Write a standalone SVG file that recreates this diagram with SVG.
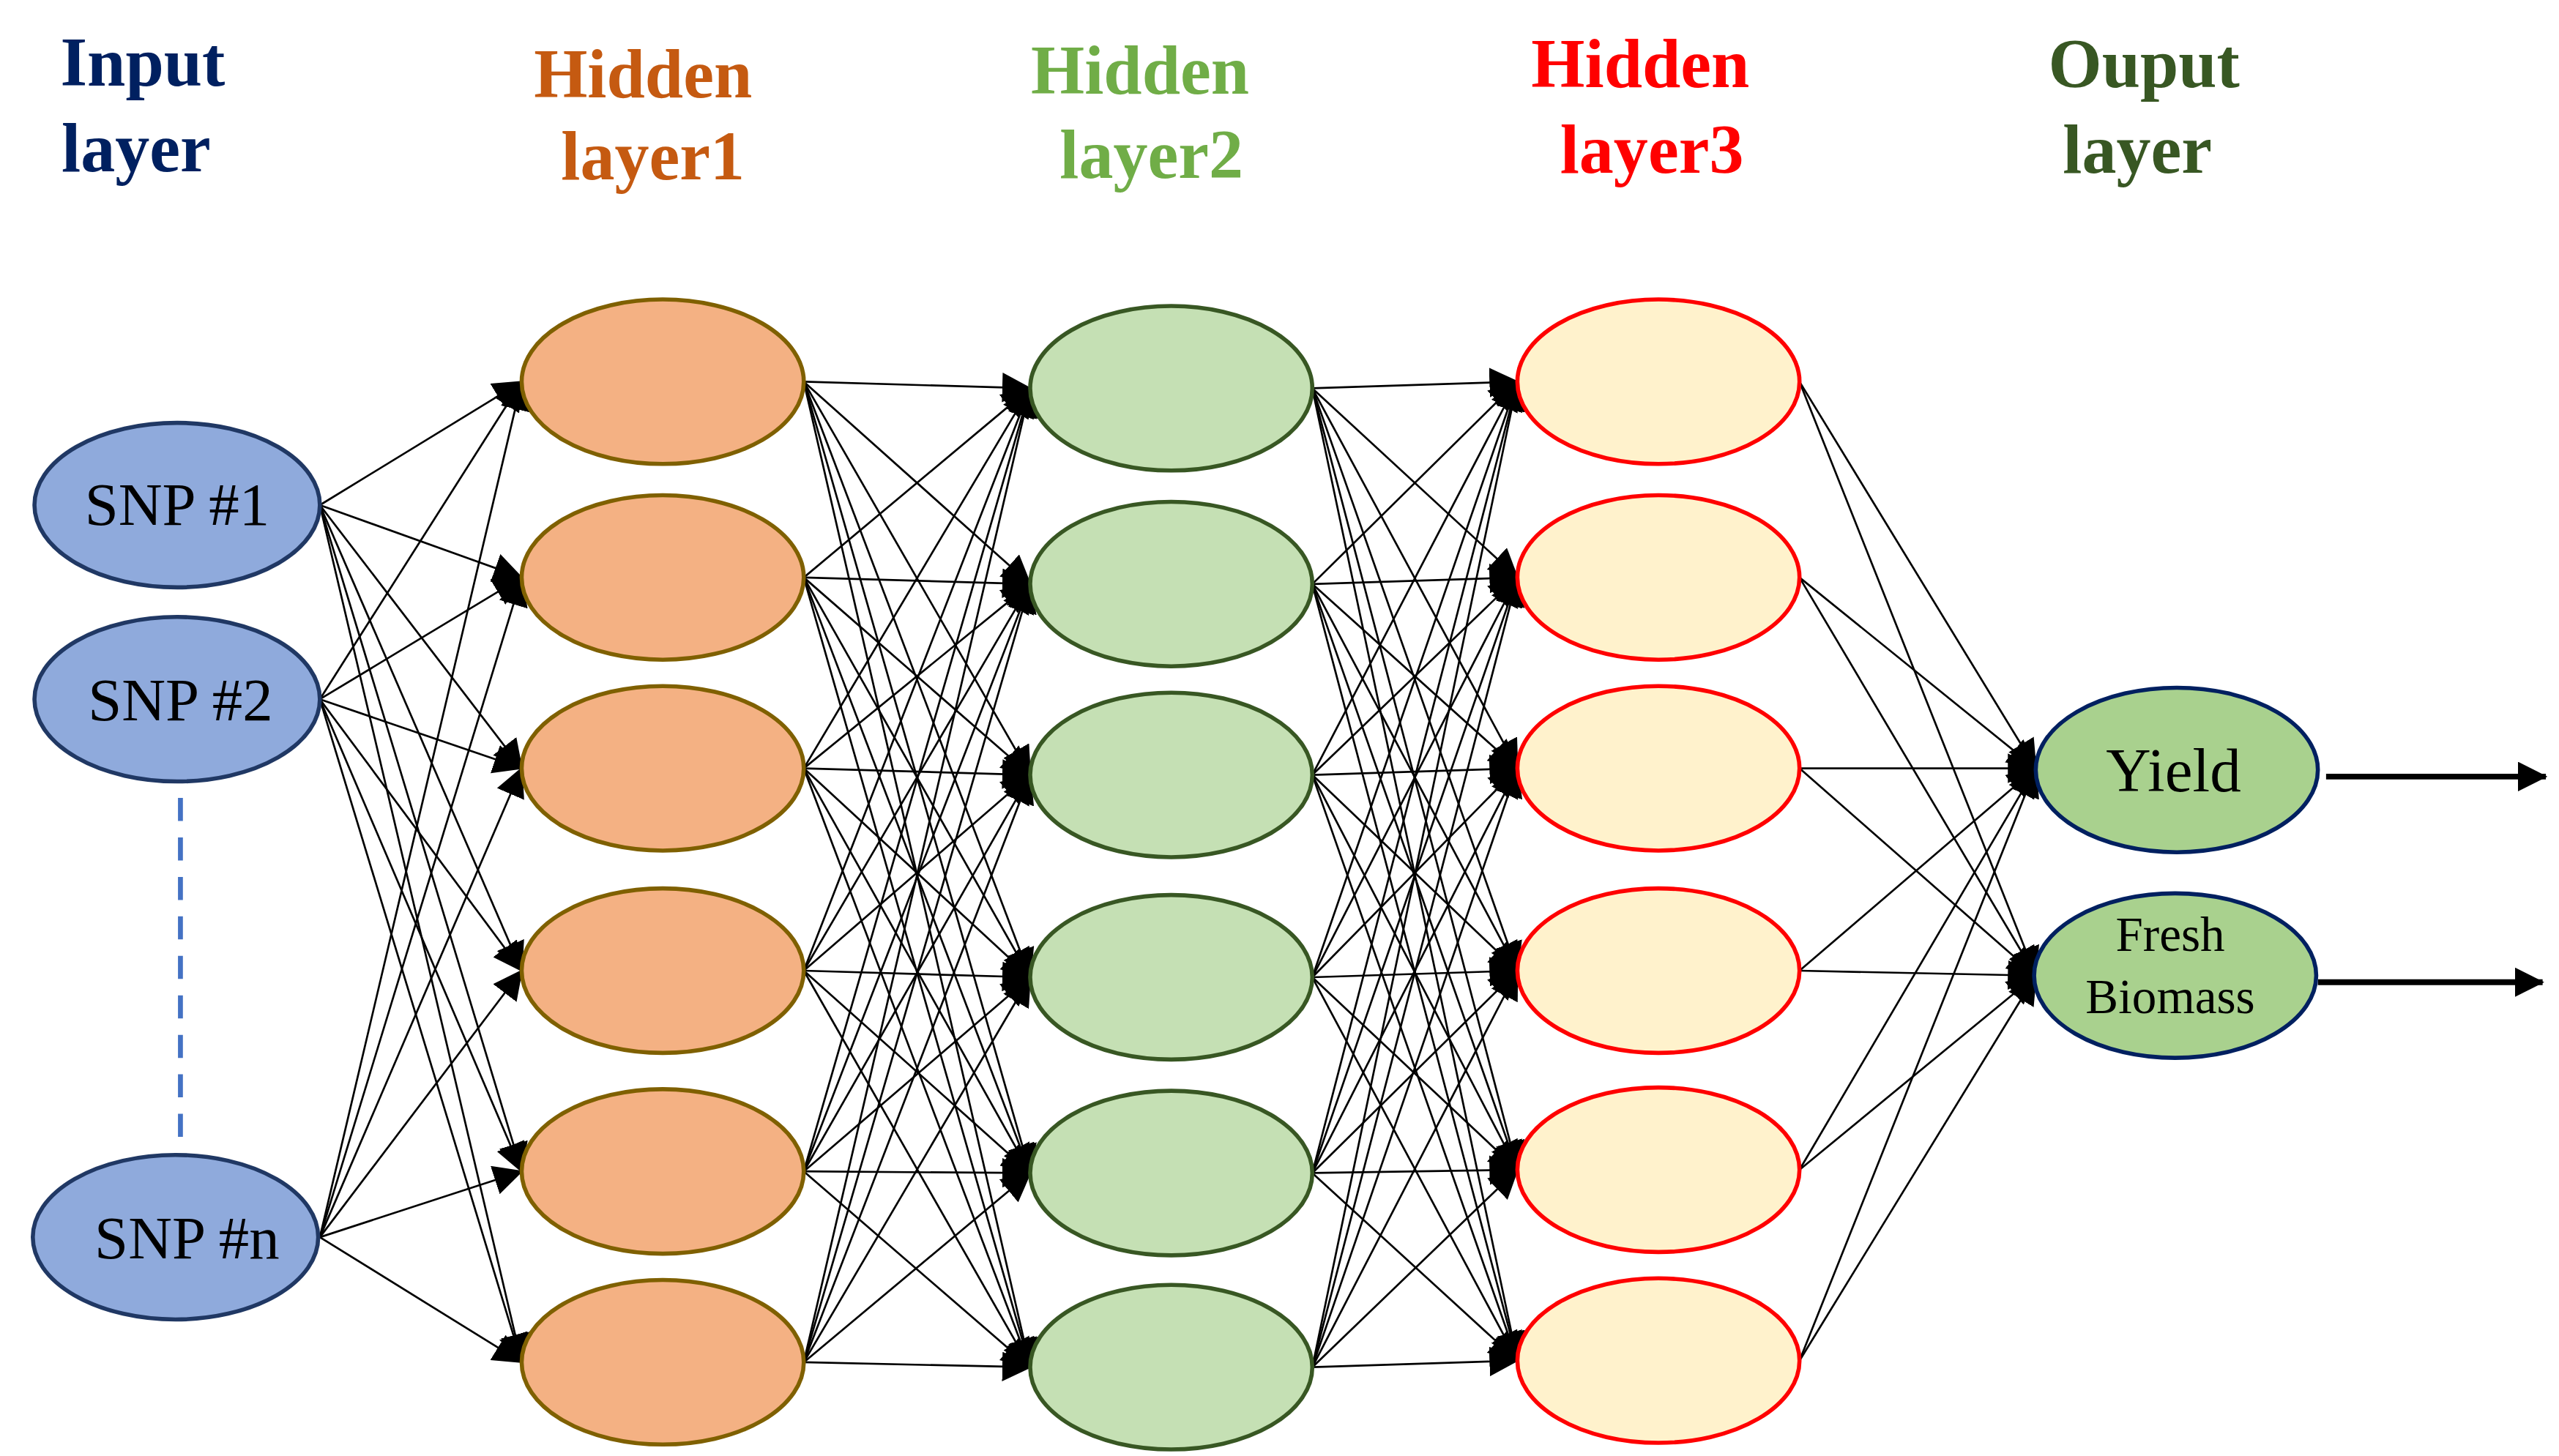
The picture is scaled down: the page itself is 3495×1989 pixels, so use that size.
<svg xmlns="http://www.w3.org/2000/svg" width="3495" height="1989" viewBox="0 0 3495 1989">
<defs>
<marker id="ah" markerWidth="18" markerHeight="18" refX="17" refY="9" orient="auto" markerUnits="userSpaceOnUse"><path d="M0,0 L18,9 L0,18 Z" fill="#000"/></marker>
<marker id="ah2" markerWidth="18" markerHeight="18" refX="17" refY="9" orient="auto" markerUnits="userSpaceOnUse"><path d="M0,0 L18,9 L0,18 Z" fill="#000"/></marker>
</defs>
<style>
.t{font-family:"Liberation Serif",serif;font-weight:bold;font-size:42px;text-anchor:middle}
.n{font-family:"Liberation Serif",serif;text-anchor:middle;fill:#000}
.c line{stroke:#000;stroke-width:1.2;marker-end:url(#ah)}
.in{fill:#8faadc;stroke:#203864;stroke-width:2.5}
.h1{fill:#f4b183;stroke:#7f6000;stroke-width:2.5}
.h2{fill:#c5e0b4;stroke:#385723;stroke-width:2.5}
.h3{fill:#fff2cc;stroke:#ff0000;stroke-width:2.5}
.o{fill:#a9d18e;stroke:#002060;stroke-width:2.5}
</style>
<rect width="3495" height="1989" fill="#fff"/>
<g transform="scale(2.2404,2.2475)">
<g id="titles">
<text class="t" fill="#002060" x="87" y="52">Input</text><text class="t" fill="#002060" x="83" y="104">layer</text>
<text class="t" fill="#c55a11" x="392" y="59">Hidden</text><text class="t" fill="#c55a11" x="398" y="109">layer1</text>
<text class="t" fill="#70ad47" x="695" y="57">Hidden</text><text class="t" fill="#70ad47" x="702" y="108">layer2</text>
<text class="t" fill="#ff0000" x="1000" y="53">Hidden</text><text class="t" fill="#ff0000" x="1007" y="105">layer3</text>
<text class="t" fill="#385723" x="1307" y="53">Ouput</text><text class="t" fill="#385723" x="1303" y="105">layer</text>
</g>
<g id="connectors" class="c">
<line x1="195" y1="307" x2="318" y2="232"/><line x1="195" y1="307" x2="318" y2="351"/><line x1="195" y1="307" x2="318" y2="467"/><line x1="195" y1="307" x2="318" y2="590"/><line x1="195" y1="307" x2="318" y2="712"/><line x1="195" y1="307" x2="318" y2="828"/>
<line x1="195" y1="425" x2="318" y2="232"/><line x1="195" y1="425" x2="318" y2="351"/><line x1="195" y1="425" x2="318" y2="467"/><line x1="195" y1="425" x2="318" y2="590"/><line x1="195" y1="425" x2="318" y2="712"/><line x1="195" y1="425" x2="318" y2="828"/>
<line x1="195" y1="752" x2="318" y2="232"/><line x1="195" y1="752" x2="318" y2="351"/><line x1="195" y1="752" x2="318" y2="467"/><line x1="195" y1="752" x2="318" y2="590"/><line x1="195" y1="752" x2="318" y2="712"/><line x1="195" y1="752" x2="318" y2="828"/>

<line x1="490" y1="232" x2="628" y2="236"/><line x1="490" y1="232" x2="628" y2="355"/><line x1="490" y1="232" x2="628" y2="471"/><line x1="490" y1="232" x2="628" y2="594"/><line x1="490" y1="232" x2="628" y2="713"/><line x1="490" y1="232" x2="628" y2="831"/>
<line x1="490" y1="351" x2="628" y2="236"/><line x1="490" y1="351" x2="628" y2="355"/><line x1="490" y1="351" x2="628" y2="471"/><line x1="490" y1="351" x2="628" y2="594"/><line x1="490" y1="351" x2="628" y2="713"/><line x1="490" y1="351" x2="628" y2="831"/>
<line x1="490" y1="467" x2="628" y2="236"/><line x1="490" y1="467" x2="628" y2="355"/><line x1="490" y1="467" x2="628" y2="471"/><line x1="490" y1="467" x2="628" y2="594"/><line x1="490" y1="467" x2="628" y2="713"/><line x1="490" y1="467" x2="628" y2="831"/>
<line x1="490" y1="590" x2="628" y2="236"/><line x1="490" y1="590" x2="628" y2="355"/><line x1="490" y1="590" x2="628" y2="471"/><line x1="490" y1="590" x2="628" y2="594"/><line x1="490" y1="590" x2="628" y2="713"/><line x1="490" y1="590" x2="628" y2="831"/>
<line x1="490" y1="712" x2="628" y2="236"/><line x1="490" y1="712" x2="628" y2="355"/><line x1="490" y1="712" x2="628" y2="471"/><line x1="490" y1="712" x2="628" y2="594"/><line x1="490" y1="712" x2="628" y2="713"/><line x1="490" y1="712" x2="628" y2="831"/>
<line x1="490" y1="828" x2="628" y2="236"/><line x1="490" y1="828" x2="628" y2="355"/><line x1="490" y1="828" x2="628" y2="471"/><line x1="490" y1="828" x2="628" y2="594"/><line x1="490" y1="828" x2="628" y2="713"/><line x1="490" y1="828" x2="628" y2="831"/>

<line x1="800" y1="236" x2="925" y2="232"/><line x1="800" y1="236" x2="925" y2="351"/><line x1="800" y1="236" x2="925" y2="467"/><line x1="800" y1="236" x2="925" y2="590"/><line x1="800" y1="236" x2="925" y2="711"/><line x1="800" y1="236" x2="925" y2="827"/>
<line x1="800" y1="355" x2="925" y2="232"/><line x1="800" y1="355" x2="925" y2="351"/><line x1="800" y1="355" x2="925" y2="467"/><line x1="800" y1="355" x2="925" y2="590"/><line x1="800" y1="355" x2="925" y2="711"/><line x1="800" y1="355" x2="925" y2="827"/>
<line x1="800" y1="471" x2="925" y2="232"/><line x1="800" y1="471" x2="925" y2="351"/><line x1="800" y1="471" x2="925" y2="467"/><line x1="800" y1="471" x2="925" y2="590"/><line x1="800" y1="471" x2="925" y2="711"/><line x1="800" y1="471" x2="925" y2="827"/>
<line x1="800" y1="594" x2="925" y2="232"/><line x1="800" y1="594" x2="925" y2="351"/><line x1="800" y1="594" x2="925" y2="467"/><line x1="800" y1="594" x2="925" y2="590"/><line x1="800" y1="594" x2="925" y2="711"/><line x1="800" y1="594" x2="925" y2="827"/>
<line x1="800" y1="713" x2="925" y2="232"/><line x1="800" y1="713" x2="925" y2="351"/><line x1="800" y1="713" x2="925" y2="467"/><line x1="800" y1="713" x2="925" y2="590"/><line x1="800" y1="713" x2="925" y2="711"/><line x1="800" y1="713" x2="925" y2="827"/>
<line x1="800" y1="831" x2="925" y2="232"/><line x1="800" y1="831" x2="925" y2="351"/><line x1="800" y1="831" x2="925" y2="467"/><line x1="800" y1="831" x2="925" y2="590"/><line x1="800" y1="831" x2="925" y2="711"/><line x1="800" y1="831" x2="925" y2="827"/>

<line x1="1097" y1="232" x2="1241" y2="467"/><line x1="1097" y1="232" x2="1241" y2="593"/>
<line x1="1097" y1="351" x2="1241" y2="467"/><line x1="1097" y1="351" x2="1241" y2="593"/>
<line x1="1097" y1="467" x2="1241" y2="467"/><line x1="1097" y1="467" x2="1241" y2="593"/>
<line x1="1097" y1="590" x2="1241" y2="467"/><line x1="1097" y1="590" x2="1241" y2="593"/>
<line x1="1097" y1="711" x2="1241" y2="467"/><line x1="1097" y1="711" x2="1241" y2="593"/>
<line x1="1097" y1="827" x2="1241" y2="467"/><line x1="1097" y1="827" x2="1241" y2="593"/>
<line x1="1418" y1="472" x2="1552" y2="472" style="stroke-width:3.5;marker-end:url(#ah2)"/>
<line x1="1413" y1="597" x2="1550" y2="597" style="stroke-width:3.5;marker-end:url(#ah2)"/>
<line x1="110" y1="485" x2="110" y2="697" style="stroke:#4472c4;stroke-width:3;stroke-dasharray:14,10;marker-end:none"/>
</g>
<g id="in1"><ellipse class="in" cx="108" cy="307" rx="87" ry="50"/><text class="n" x="108" y="319" font-size="37">SNP #1</text></g>
<g id="in2"><ellipse class="in" cx="108" cy="425" rx="87" ry="50"/><text class="n" x="110" y="438" font-size="37">SNP #2</text></g>
<g id="inN"><ellipse class="in" cx="107" cy="752" rx="87" ry="50"/><text class="n" x="114" y="765" font-size="37">SNP #n</text></g>
<g id="h1n1"><ellipse class="h1" cx="404" cy="232" rx="86" ry="50"/></g>
<g id="h1n2"><ellipse class="h1" cx="404" cy="351" rx="86" ry="50"/></g>
<g id="h1n3"><ellipse class="h1" cx="404" cy="467" rx="86" ry="50"/></g>
<g id="h1n4"><ellipse class="h1" cx="404" cy="590" rx="86" ry="50"/></g>
<g id="h1n5"><ellipse class="h1" cx="404" cy="712" rx="86" ry="50"/></g>
<g id="h1n6"><ellipse class="h1" cx="404" cy="828" rx="86" ry="50"/></g>
<g id="h2n1"><ellipse class="h2" cx="714" cy="236" rx="86" ry="50"/></g>
<g id="h2n2"><ellipse class="h2" cx="714" cy="355" rx="86" ry="50"/></g>
<g id="h2n3"><ellipse class="h2" cx="714" cy="471" rx="86" ry="50"/></g>
<g id="h2n4"><ellipse class="h2" cx="714" cy="594" rx="86" ry="50"/></g>
<g id="h2n5"><ellipse class="h2" cx="714" cy="713" rx="86" ry="50"/></g>
<g id="h2n6"><ellipse class="h2" cx="714" cy="831" rx="86" ry="50"/></g>
<g id="h3n1"><ellipse class="h3" cx="1011" cy="232" rx="86" ry="50"/></g>
<g id="h3n2"><ellipse class="h3" cx="1011" cy="351" rx="86" ry="50"/></g>
<g id="h3n3"><ellipse class="h3" cx="1011" cy="467" rx="86" ry="50"/></g>
<g id="h3n4"><ellipse class="h3" cx="1011" cy="590" rx="86" ry="50"/></g>
<g id="h3n5"><ellipse class="h3" cx="1011" cy="711" rx="86" ry="50"/></g>
<g id="h3n6"><ellipse class="h3" cx="1011" cy="827" rx="86" ry="50"/></g>
<g id="yield"><ellipse class="o" cx="1327" cy="468" rx="86" ry="50"/><text class="n" x="1325" y="481" font-size="38">Yield</text></g>
<g id="biomass"><ellipse class="o" cx="1326" cy="593" rx="86" ry="50"/><text class="n" x="1323" y="578" font-size="30">Fresh</text><text class="n" x="1323" y="616" font-size="30">Biomass</text></g>
</g>
</svg>
